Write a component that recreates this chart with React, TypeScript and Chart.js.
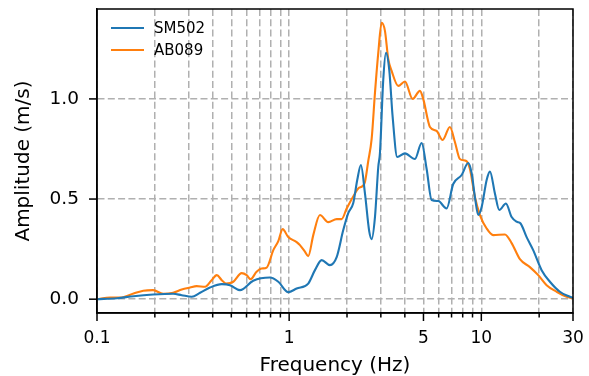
import React, { useEffect, useRef } from "react";
import { Chart, registerables } from "chart.js";

Chart.register(...registerables);

// ---- Data ----
const sm502Freq = [
  0.1, 0.127, 0.155, 0.196, 0.249, 0.276, 0.311, 0.344, 0.387, 0.446, 0.492, 0.555,
  0.65, 0.794, 0.878, 0.989, 1.094, 1.257, 1.362, 1.476, 1.63, 1.767, 1.912, 2.03,
  2.156, 2.261, 2.363, 2.48, 2.612, 2.687, 2.796, 2.909, 2.968, 3.088, 3.189, 3.318,
  3.456, 3.651, 4.004, 4.513, 4.891, 5.194, 5.513, 5.967, 6.597, 7.141, 7.898, 8.548,
  8.903, 9.262, 9.636, 10.04, 10.66, 11.09, 11.77, 12.4, 13.43, 14.38, 15.27, 16.01,
  17.21, 18.62, 20.6, 22.75, 25.64, 28.91, 30,
];
const sm502Amp = [
  0.0, 0.005, 0.015, 0.023, 0.027, 0.02, 0.012, 0.032, 0.058, 0.075, 0.07, 0.045,
  0.092, 0.108, 0.087, 0.035, 0.053, 0.078, 0.145, 0.195, 0.17, 0.21, 0.345, 0.43,
  0.48, 0.595, 0.67, 0.528, 0.337, 0.3, 0.41, 0.66, 0.73, 1.095, 1.23, 1.145,
  0.91, 0.71, 0.728, 0.7, 0.78, 0.65, 0.495, 0.49, 0.453, 0.575, 0.62, 0.68,
  0.63, 0.51, 0.42, 0.46, 0.595, 0.637, 0.528, 0.445, 0.478, 0.41, 0.387, 0.378,
  0.31, 0.245, 0.145, 0.087, 0.037, 0.012, 0.006,
];

const ab089Freq = [
  0.1, 0.117, 0.132, 0.155, 0.174, 0.196, 0.221, 0.249, 0.276, 0.305, 0.33, 0.365,
  0.395, 0.42, 0.446, 0.469, 0.512, 0.566, 0.601, 0.63, 0.677, 0.719, 0.764, 0.827,
  0.878, 0.925, 0.989, 1.094, 1.138, 1.208, 1.257, 1.335, 1.446, 1.597, 1.767, 1.876,
  1.992, 2.2, 2.288, 2.412, 2.48, 2.58, 2.687, 2.796, 2.909, 3.029, 3.151, 3.278,
  3.414, 3.695, 4.004, 4.391, 4.792, 4.986, 5.403, 5.853, 6.29, 6.864, 7.287, 7.739,
  8.35, 8.724, 9.262, 9.833, 10.66, 11.53, 13.27, 14.38, 15.88, 17.9, 19.78, 21.87,
  24.65, 27.79, 30,
];
const ab089Amp = [
  0.0, 0.008, 0.008, 0.028, 0.042, 0.045, 0.027, 0.032, 0.048, 0.058, 0.065, 0.062,
  0.095, 0.12, 0.095, 0.078, 0.087, 0.13, 0.12, 0.1, 0.137, 0.153, 0.158, 0.245,
  0.29, 0.35, 0.31, 0.285, 0.27, 0.237, 0.215, 0.32, 0.42, 0.385, 0.4, 0.4,
  0.453, 0.528, 0.553, 0.565, 0.585, 0.69, 0.8, 1.03, 1.23, 1.38, 1.34, 1.2,
  1.14, 1.065, 1.087, 1.0, 1.04, 1.0, 0.86, 0.84, 0.795, 0.86, 0.785, 0.7,
  0.69, 0.65, 0.51, 0.42, 0.353, 0.32, 0.323, 0.28, 0.2, 0.16, 0.12, 0.07,
  0.037, 0.012, 0.004,
];

const xTickValues = [
  0.1, 0.2, 0.3, 0.4, 0.5, 0.6, 0.7, 0.8, 0.9, 1, 2, 3, 4, 5, 6, 7, 8, 9, 10, 20, 30,
];
const xTickLabels = ["0.1", "1", "5", "10", "30"];
const yTickValues = [0, 0.5, 1.0];

const seriesNames = ["SM502", "AB089"];
const seriesColors = ["#1f77b4", "#ff7f0e"];

const FONT = "'DejaVu Sans', sans-serif";

function labelFor(v: number): string {
  const s = String(Math.round(v * 1000) / 1000);
  return xTickLabels.includes(s) ? s : "";
}

export default function App() {
  const ref = useRef<HTMLCanvasElement>(null);

  useEffect(() => {
    document.body.style.margin = "0";
    const canvas = ref.current;
    if (!canvas) return;

    const framePlugin = {
      id: "framePlugin",
      afterDraw(chart: any) {
        const { ctx, chartArea: a, scales } = chart;
        ctx.save();
        ctx.strokeStyle = "#000";
        ctx.lineWidth = 1.5;
        ctx.setLineDash([]);
        ctx.strokeRect(a.left, a.top, a.right - a.left, a.bottom - a.top);
        // x tick marks (major longer, minor shorter)
        const xs = scales.x;
        xTickValues.forEach((v) => {
          const px = xs.getPixelForValue(v);
          const len = labelFor(v) ? 8 : 4.5;
          ctx.beginPath();
          ctx.moveTo(px, a.bottom);
          ctx.lineTo(px, a.bottom + len);
          ctx.stroke();
        });
        const ys = scales.y;
        yTickValues.forEach((v) => {
          const py = ys.getPixelForValue(v);
          ctx.beginPath();
          ctx.moveTo(a.left, py);
          ctx.lineTo(a.left - 8, py);
          ctx.stroke();
        });
        // legend
        ctx.font = `15px ${FONT}`;
        ctx.textBaseline = "middle";
        ctx.textAlign = "left";
        seriesNames.forEach((name, i) => {
          const y = a.top + 19 + i * 22;
          ctx.strokeStyle = seriesColors[i];
          ctx.lineWidth = 2;
          ctx.beginPath();
          ctx.moveTo(a.left + 14, y);
          ctx.lineTo(a.left + 47, y);
          ctx.stroke();
          ctx.fillStyle = "#000";
          ctx.fillText(name, a.left + 57, y + 1);
        });
        ctx.restore();
      },
    };

    const gridCommon = {
      color: "#b0b0b0",
      lineWidth: 1.5,
      tickLength: 8,
      tickColor: "rgba(0,0,0,0)",
    };
    const borderCommon = { display: true, color: "#000", width: 1.5, dash: [7, 3.3] };

    const chart = new Chart(canvas, {
      type: "line",
      data: {
        datasets: [
          {
            label: seriesNames[0],
            data: sm502Freq.map((f, i) => ({ x: f, y: sm502Amp[i] })),
            borderColor: seriesColors[0],
            backgroundColor: seriesColors[0],
            borderWidth: 2.1,
            pointRadius: 0,
            cubicInterpolationMode: "monotone",
            fill: false,
          },
          {
            label: seriesNames[1],
            data: ab089Freq.map((f, i) => ({ x: f, y: ab089Amp[i] })),
            borderColor: seriesColors[1],
            backgroundColor: seriesColors[1],
            borderWidth: 2.1,
            pointRadius: 0,
            cubicInterpolationMode: "monotone",
            fill: false,
          },
        ],
      },
      options: {
        animation: false,
        responsive: true,
        maintainAspectRatio: false,
        devicePixelRatio: 1,
        layout: { padding: { top: 9, right: 16, left: 0, bottom: 0 } },
        plugins: {
          legend: { display: false },
          tooltip: { enabled: false },
        },
        scales: {
          x: {
            type: "logarithmic",
            min: 0.1,
            max: 30,
            afterBuildTicks: (s: any) => {
              s.ticks = xTickValues.map((v) => ({ value: v }));
            },
            afterFit: (s: any) => {
              s.height = 63;
              s.paddingLeft = 0;
              s.paddingRight = 0;
            },
            ticks: {
              autoSkip: false,
              maxRotation: 0,
              minRotation: 0,
              padding: 7,
              color: "#000",
              font: { family: FONT, size: 17 },
              callback: (v: any) => labelFor(Number(v)),
            },
            grid: gridCommon,
            border: borderCommon,
            title: {
              display: true,
              text: "Frequency (Hz)",
              color: "#000",
              font: { family: FONT, size: 20 },
              padding: { top: 0, bottom: -2 },
            },
          },
          y: {
            type: "linear",
            min: -0.069,
            max: 1.449,
            afterBuildTicks: (s: any) => {
              s.ticks = yTickValues.map((v) => ({ value: v }));
            },
            afterFit: (s: any) => {
              s.width = 97;
              s.paddingTop = 0;
              s.paddingBottom = 0;
            },
            ticks: {
              padding: 10,
              color: "#000",
              font: { family: FONT, size: 18.5 },
              callback: (v: any) => Number(v).toFixed(1),
            },
            grid: gridCommon,
            border: borderCommon,
            title: {
              display: true,
              text: "Amplitude (m/s)",
              color: "#000",
              font: { family: FONT, size: 20 },
              padding: { top: 12, bottom: 0 },
            },
          },
        },
      } as any,
      plugins: [framePlugin],
    });

    return () => chart.destroy();
  }, []);

  return (
    <div style={{ width: 589, height: 376, position: "relative" }}>
      <canvas ref={ref} />
    </div>
  );
}
